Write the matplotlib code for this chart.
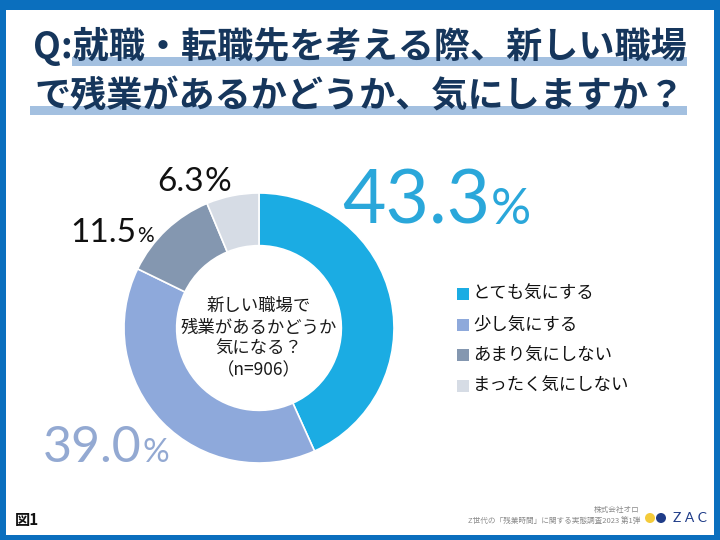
import matplotlib
matplotlib.use("Agg")
import matplotlib.pyplot as plt
from matplotlib.patches import Rectangle, Circle

plt.rcParams['font.family'] = ['Noto Sans CJK JP', 'DejaVu Sans']

categories = ["とても気にする", "少し気にする", "あまり気にしない", "まったく気にしない"]
values = [43.3, 39.0, 11.5, 6.3]
colors = ["#1BACE3", "#8EA9DB", "#8497B0", "#D6DCE5"]
title_lines = ["Q:就職・転職先を考える際、新しい職場", "で残業があるかどうか、気にしますか？"]
center_lines = ["新しい職場で", "残業があるかどうか", "気になる？", "（n=906）"]

W, H = 720, 540
fig = plt.figure(figsize=(7.2, 5.4), dpi=100)
fig.patch.set_facecolor("#0B6FBE")

ax0 = fig.add_axes([0, 0, 1, 1])
ax0.set_xlim(0, W)
ax0.set_ylim(H, 0)
ax0.axis("off")
ax0.add_patch(Rectangle((6, 10), 708, 525, facecolor="white", edgecolor="none", zorder=0))

# title highlights
ax0.add_patch(Rectangle((72, 57), 615, 9, facecolor="#A3C0E0", edgecolor="none", zorder=1))
ax0.add_patch(Rectangle((30, 106), 657, 9, facecolor="#A3C0E0", edgecolor="none", zorder=1))
title_color = "#16365C"
ax0.text(360, 46, title_lines[0], ha="center", va="center", fontsize=26,
         fontweight="bold", color=title_color, zorder=2)
ax0.text(360, 97, title_lines[1], ha="center", va="center", fontsize=26,
         fontweight="bold", color=title_color, zorder=2)

# donut
cx, cy, R = 259, 328, 135
axp = fig.add_axes([(cx - R) / W, (H - cy - R) / H, 2 * R / W, 2 * R / H])
axp.pie(values, colors=colors, startangle=90, counterclock=False,
        wedgeprops=dict(width=0.39, edgecolor="white", linewidth=1.2))
axp.set_xlim(-1, 1)
axp.set_ylim(-1, 1)
axp.set_aspect("equal")
axp.axis("off")

for i, line in enumerate(center_lines):
    ax0.text(cx, 306 + i * 21.5, line, ha="center", va="center", fontsize=12.5,
             color="#1a1a1a", zorder=5)

# percentage labels
def pct(x, y, num, size, psize, color):
    ax0.text(x, y, num, ha="right", va="baseline", fontsize=size, color=color,
             family=["Lato", "DejaVu Sans"], zorder=5)
    ax0.text(x + 1, y, "%", ha="left", va="baseline", fontsize=psize, color=color,
             family=["Lato", "DejaVu Sans"], zorder=5)

pct(490, 224, f"{values[0]:.1f}", 54, 36, "#2AA7DA")
pct(142, 462, f"{values[1]:.1f}", 36, 24, "#93A9D2")
pct(136, 242, f"{values[2]:.1f}", 24, 15, "#111111")
pct(204, 191, f"{values[3]:.1f}", 24, 24, "#111111")

# legend
for i, (lab, c) in enumerate(zip(categories, colors)):
    y = 294 + i * 30.7
    ax0.add_patch(Rectangle((457, y - 6), 12, 12, facecolor=c, edgecolor="none", zorder=5))
    ax0.text(473, y, lab, ha="left", va="center", fontsize=12.5, color="#111111", zorder=5)

# footer
ax0.text(15, 520, "図1", ha="left", va="center", fontsize=11, fontweight="bold", color="#111111")
ax0.text(640, 510, "株式会社オロ", ha="right", va="center", fontsize=5.5, color="#8a8a8a")
ax0.text(640, 521, "Z世代の「残業時間」に関する実態調査2023 第1弾", ha="right", va="center",
         fontsize=5.5, color="#8a8a8a")
ax0.add_patch(Circle((650, 518), 5, facecolor="#F4CB3A", edgecolor="none"))
ax0.add_patch(Circle((661, 518), 5, facecolor="#1F3C88", edgecolor="none"))
ax0.text(673, 518, "Z A C", ha="left", va="center", fontsize=10, color="#1F3C88",
         family=["Lato", "DejaVu Sans"])

fig.savefig("out.png", dpi=100, facecolor=fig.get_facecolor())
